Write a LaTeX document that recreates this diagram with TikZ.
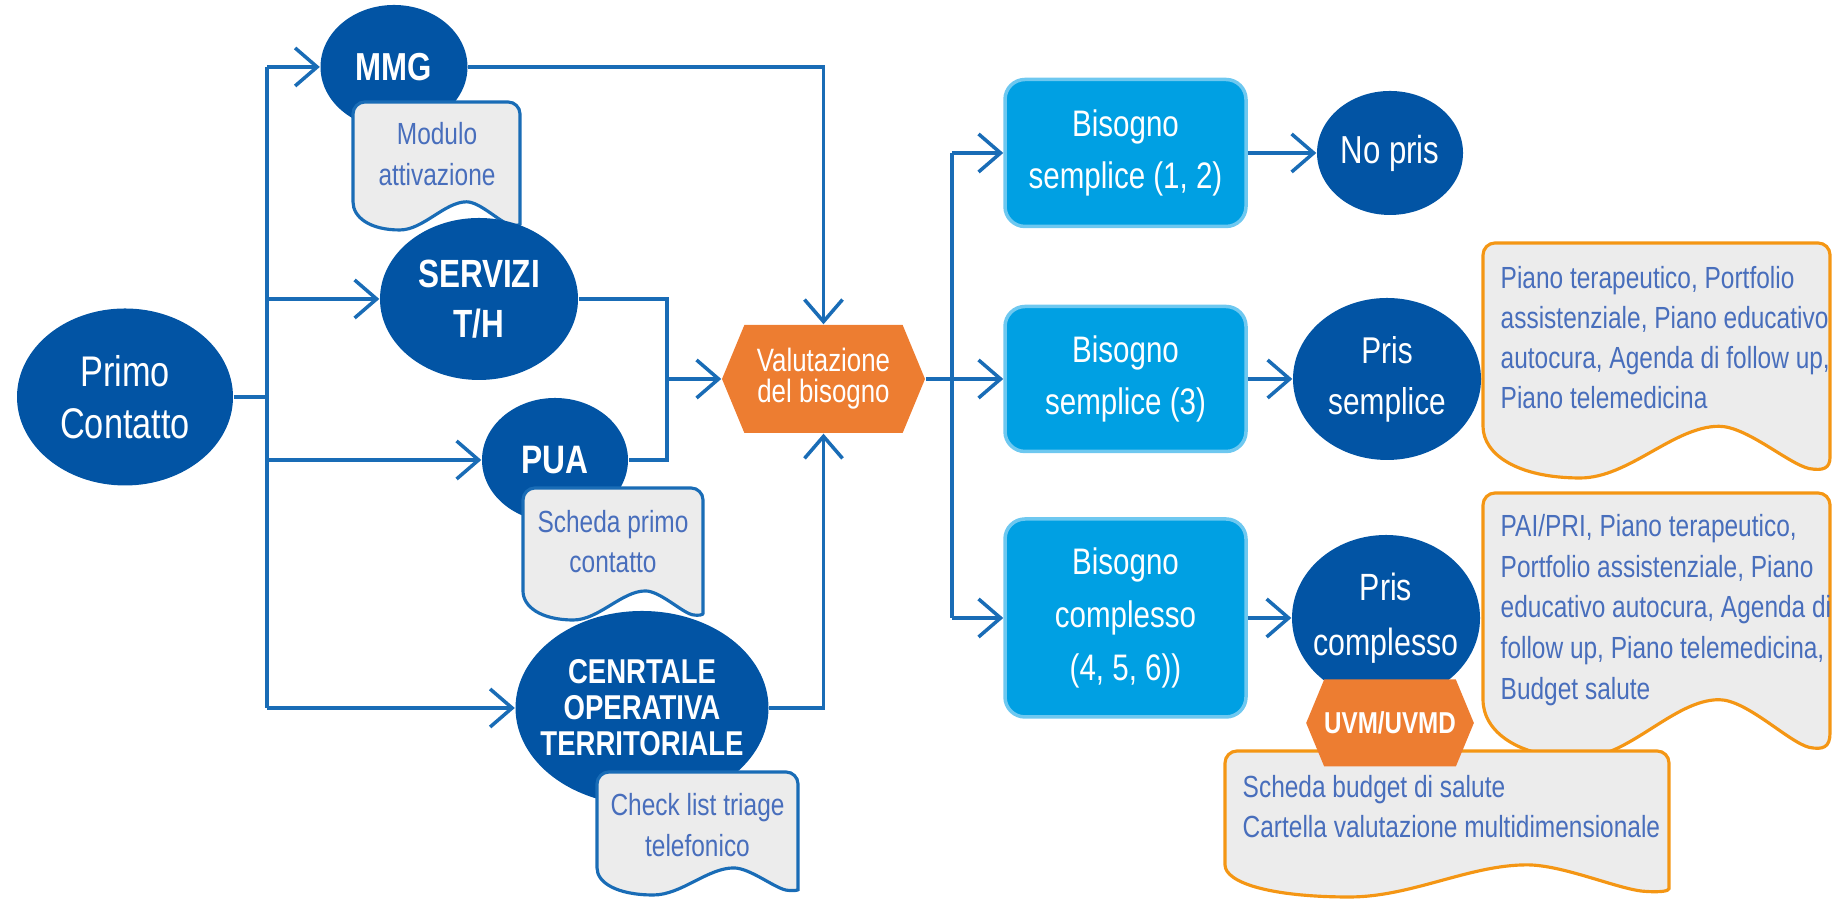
\documentclass[tikz,border=0pt]{standalone}
\usepackage{fontspec}
\setmainfont{Liberation Sans}[FakeStretch=0.8]
\usepackage{tikz}
\usetikzlibrary{shapes.geometric,shapes.symbols,arrows.meta}

\definecolor{blusc}{RGB}{2,84,164}
\definecolor{blulinea}{RGB}{25,108,182}
\definecolor{ciano}{RGB}{0,160,227}
\definecolor{cianochiaro}{RGB}{110,200,240}
\definecolor{arancio}{RGB}{237,125,49}
\definecolor{arancioscuro}{RGB}{244,150,20}
\definecolor{grigio}{RGB}{236,236,236}
\definecolor{testodoc}{RGB}{72,110,188}

% 文档形状: 样式, 左, 上, 右, 下
\newcommand{\docshape}[5]{%
  \draw[#1] (#2,{#5+0.22*(#3-#5)}) [rounded corners=0.12cm] -- (#2,#3) -- (#4,#3) -- (#4,{#5+0.14*(#3-#5)}) [sharp corners]
    .. controls (#4,{#5+0.04*(#3-#5)}) and ({#4-0.02*(#4-#2)},{#5+0.03*(#3-#5)}) .. ({#4-0.06*(#4-#2)},{#5+0.04*(#3-#5)})
    .. controls ({#4-0.12*(#4-#2)},{#5+0.06*(#3-#5)}) and ({#2+0.76*(#4-#2)},{#5+0.22*(#3-#5)}) .. ({#2+0.68*(#4-#2)},{#5+0.22*(#3-#5)})
    .. controls ({#2+0.55*(#4-#2)},{#5+0.22*(#3-#5)}) and ({#2+0.42*(#4-#2)},#5) .. ({#2+0.28*(#4-#2)},#5)
    .. controls ({#2+0.1*(#4-#2)},#5) and (#2,{#5+0.1*(#3-#5)}) .. cycle;%
}

\begin{document}
\begin{tikzpicture}[
		ell/.style={ellipse, fill=blusc, inner sep=0pt},
		etxt/.style={text=white, align=center, inner sep=0pt},
		bis/.style={rectangle, rounded corners=0.2cm, fill=ciano, draw=cianochiaro, line width=1pt,
			text=white, align=center, minimum width=2.41cm, font=\fontsize{10.5}{15}\selectfont},
		esa/.style={signal, signal to=east and west, signal pointer angle=135, fill=arancio,
			text=white, align=center, inner sep=0pt},
		dtxt/.style={text=testodoc, align=center, inner sep=0pt, font=\fontsize{8.7}{11.6}\selectfont},
		docblu/.style={draw=blulinea, fill=grigio, line width=0.9pt},
		docara/.style={draw=arancioscuro, fill=grigio, line width=0.9pt},
		filo/.style={draw=blulinea, line width=1pt},
		freccia/.style={filo, -{Straight Barb[length=0.22cm,width=0.38cm]}},
	]
		\useasboundingbox (0,0) rectangle (18.34,8.99);
		
		% 首次接触
		\node[ell, minimum width=2.16cm, minimum height=1.77cm] (primo) at (1.25,5.02) {};
		\node[etxt, font=\fontsize{12.2}{14.8}\selectfont] at (primo) {Primo\\Contatto};
		
		% MMG 及其文档
		\node[ell, minimum width=1.47cm, minimum height=1.24cm] (mmg) at (3.94,8.32) {};
		\node[etxt, font=\fontsize{11.1}{13}\selectfont\bfseries] at (mmg) {MMG};
		\docshape{docblu}{3.53}{7.97}{5.20}{6.69}
		\node[dtxt] (tmod) at (4.37,7.45) {Modulo\\attivazione};
		
		% SERVIZI T/H
		\node[ell, minimum width=1.98cm, minimum height=1.62cm] (serv) at (4.79,6.00) {};
		\node[etxt, font=\fontsize{11.2}{14.2}\selectfont\bfseries] at (serv) {SERVIZI\\T/H};
		
		% PUA 及其文档
		\node[ell, minimum width=1.46cm, minimum height=1.24cm] (pua) at (5.55,4.39) {};
		\node[etxt, font=\fontsize{11.3}{13}\selectfont\bfseries] at (pua) {PUA};
		\docshape{docblu}{5.23}{4.11}{7.03}{2.79}
		\node[dtxt] (tpua) at (6.13,3.575) {Scheda primo\\contatto};
		
		% 中央
		\node[ell, minimum width=2.53cm, minimum height=1.94cm] (cot) at (6.42,1.91) {};
		\node[etxt, font=\fontsize{9.8}{10.2}\selectfont\bfseries] at (cot) {CENRTALE\\OPERATIVA\\TERRITORIALE};
		\docshape{docblu}{5.97}{1.27}{7.98}{0.04}
		\node[dtxt] (tchk) at (6.975,0.74) {Check list triage\\telefonico};
		
		% 评估
		\node[esa, minimum width=2.03cm, minimum height=1.08cm, font=\fontsize{9.2}{8.8}\selectfont] (val) at (8.235,5.20) {Valutazione\\del bisogno};
		
		% 需求
		\node[bis, minimum height=1.47cm] (b1) at (11.255,7.46) {Bisogno\\semplice (1, 2)};
		\node[bis, minimum height=1.45cm] (b2) at (11.255,5.20) {Bisogno\\semplice (3)};
		\node[bis, minimum height=1.98cm] (b3) at (11.255,2.81) {Bisogno\\complesso\\(4, 5, 6))};
		
		% 右侧
		\node[ell, minimum width=1.46cm, minimum height=1.24cm] (np) at (13.90,7.46) {};
		\node[etxt, font=\fontsize{11.1}{13}\selectfont] at (np) {No pris};
		
		\docshape{docara}{14.83}{6.56}{18.30}{4.21}
		\node[dtxt, align=left, anchor=west, font=\fontsize{8.7}{11.4}\selectfont] (tps) at (15.00,5.615) {Piano terapeutico, Portfolio\\assistenziale, Piano educativo\\autocura, Agenda di follow up,\\Piano telemedicina};
		\node[ell, minimum width=1.88cm, minimum height=1.62cm] (ps) at (13.87,5.20) {};
		\node[etxt, font=\fontsize{10.6}{14.5}\selectfont] at (ps) {Pris\\semplice};
		
		\docshape{docara}{14.83}{4.06}{18.30}{1.41}
		\node[dtxt, align=left, anchor=west, font=\fontsize{8.7}{11.6}\selectfont] (tpai) at (15.00,2.89) {PAI/PRI, Piano terapeutico,\\Portfolio assistenziale, Piano\\educativo autocura, Agenda di\\follow up, Piano telemedicina,\\Budget salute};
		\node[ell, minimum width=1.88cm, minimum height=1.66cm] (pc) at (13.86,2.81) {};
		\node[etxt, font=\fontsize{10.8}{15.5}\selectfont] at (pc) {Pris\\complesso};
		
		\docshape{docara}{12.25}{1.48}{16.69}{0.02}
		\node[dtxt, align=left, anchor=west] (tsch) at (12.42,0.925) {Scheda budget di salute\\Cartella valutazione multidimensionale};
		\node[esa, minimum width=1.66cm, minimum height=0.87cm, font=\fontsize{8.6}{10}\selectfont\bfseries] (uvm) at (13.90,1.76) {UVM/UVMD};
		
		% 连接线
		\coordinate (tr) at (2.67,5.02);
		\draw[filo] (primo.east) -- (tr);
		\draw[filo] (tr |- mmg.west) -- (tr |- cot.west);
		\draw[freccia] (tr |- mmg.west) -- (mmg.west);
		\draw[freccia] (tr |- serv.west) -- (serv.west);
		\draw[freccia] (tr |- pua.west) -- (pua.west);
		\draw[freccia] (tr |- cot.west) -- (cot.west);
		
		\draw[freccia] (mmg.east) -| (val.north);
		\coordinate (sp) at (6.67,5.20);
		\draw[filo] (serv.east) -| (sp |- pua.east) -- (pua.east);
		\draw[freccia] (sp) -- (val.west);
		\draw[freccia] (cot.east) -| (val.south);
		
		\draw[freccia] (val.east) -- (b2.west);
		\coordinate (rt) at (9.52,5.20);
		\draw[filo] (rt |- b1.west) -- (rt |- b3.west);
		\draw[freccia] (rt |- b1.west) -- (b1.west);
		\draw[freccia] (rt |- b3.west) -- (b3.west);
		
		\draw[freccia] (b1.east) -- (np.west);
		\draw[freccia] (b2.east) -- (ps.west);
		\draw[freccia] (b3.east) -- (pc.west);
	\end{tikzpicture}
\end{document}
